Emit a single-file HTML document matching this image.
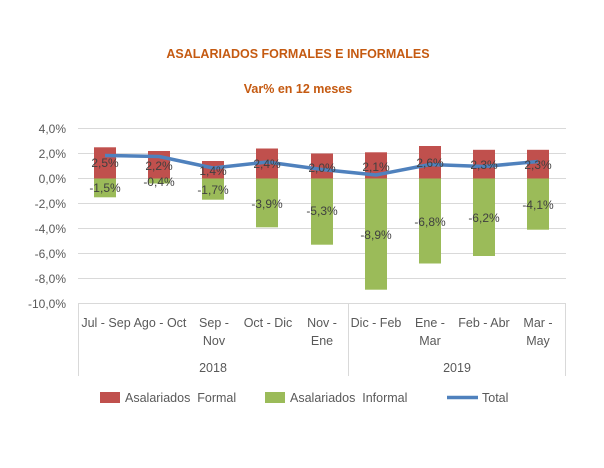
<!DOCTYPE html>
<html><head><meta charset="utf-8"><style>
body{margin:0;background:#fff}
svg{display:block;font-family:"Liberation Sans",sans-serif}
</style></head><body>
<svg width="604" height="468" viewBox="0 0 604 468">
<rect width="604" height="468" fill="#fff"/>
<text x="298" y="58" text-anchor="middle" font-size="12.5" font-weight="bold" fill="#c55a11">ASALARIADOS FORMALES E INFORMALES</text>
<text x="298" y="93" text-anchor="middle" font-size="12.5" font-weight="bold" fill="#c55a11">Var% en 12 meses</text>
<g stroke="#d9d9d9" stroke-width="1">
<line x1="78" x2="566" y1="128.5" y2="128.5"/><line x1="78" x2="566" y1="153.5" y2="153.5"/>
<line x1="78" x2="566" y1="178.5" y2="178.5"/><line x1="78" x2="566" y1="203.5" y2="203.5"/>
<line x1="78" x2="566" y1="228.5" y2="228.5"/><line x1="78" x2="566" y1="253.5" y2="253.5"/>
<line x1="78" x2="566" y1="278.5" y2="278.5"/><line x1="78" x2="566" y1="303.5" y2="303.5"/>
<line x1="78.5" x2="78.5" y1="303" y2="376"/><line x1="348.5" x2="348.5" y1="303" y2="376"/><line x1="565.5" x2="565.5" y1="303" y2="376"/>
</g>
<g font-size="12" fill="#595959" text-anchor="end">
<text x="66" y="133">4,0%</text><text x="66" y="158">2,0%</text><text x="66" y="183">0,0%</text>
<text x="66" y="208">-2,0%</text><text x="66" y="233">-4,0%</text><text x="66" y="258">-6,0%</text>
<text x="66" y="283">-8,0%</text><text x="66" y="308">-10,0%</text>
</g>
<g fill="#c0504d">
<rect x="94" y="147.3" width="22" height="31.2"/><rect x="148" y="151" width="22" height="27.5"/>
<rect x="202" y="161" width="22" height="17.5"/><rect x="256" y="148.5" width="22" height="30"/>
<rect x="311" y="153.5" width="22" height="25"/><rect x="365" y="152.3" width="22" height="26.2"/>
<rect x="419" y="146" width="22" height="32.5"/><rect x="473" y="149.8" width="22" height="28.7"/>
<rect x="527" y="149.8" width="22" height="28.7"/>
</g>
<g fill="#9bbb59">
<rect x="94" y="178.5" width="22" height="18.8"/><rect x="148" y="178.5" width="22" height="5"/>
<rect x="202" y="178.5" width="22" height="21.2"/><rect x="256" y="178.5" width="22" height="48.8"/>
<rect x="311" y="178.5" width="22" height="66.2"/><rect x="365" y="178.5" width="22" height="111.2"/>
<rect x="419" y="178.5" width="22" height="85"/><rect x="473" y="178.5" width="22" height="77.5"/>
<rect x="527" y="178.5" width="22" height="51.2"/>
</g>
<polyline fill="none" stroke="#4f81bd" stroke-width="3.5" stroke-linejoin="round" points="105,155.5 159,156.5 213,168 267,162 322,169.5 376,175 430,164.5 484,166.5 538,161.5"/>
<g font-size="12" fill="#404040" text-anchor="middle">
<text x="105" y="167">2,5%</text><text x="159" y="170">2,2%</text><text x="213" y="175">1,4%</text>
<text x="267" y="168">2,4%</text><text x="322" y="172">2,0%</text><text x="376" y="171">2,1%</text>
<text x="430" y="167">2,6%</text><text x="484" y="169">2,3%</text><text x="538" y="169">2,3%</text>
<text x="105" y="192">-1,5%</text><text x="159" y="186">-0,4%</text><text x="213" y="194">-1,7%</text>
<text x="267" y="208">-3,9%</text><text x="322" y="215">-5,3%</text><text x="376" y="239">-8,9%</text>
<text x="430" y="226">-6,8%</text><text x="484" y="222">-6,2%</text><text x="538" y="209">-4,1%</text>
</g>
<g font-size="12.5" fill="#595959" text-anchor="middle">
<text x="106" y="327">Jul - Sep</text><text x="160" y="327">Ago - Oct</text>
<text x="214" y="327">Sep -</text><text x="214" y="345">Nov</text>
<text x="268" y="327">Oct - Dic</text>
<text x="322" y="327">Nov -</text><text x="322" y="345">Ene</text>
<text x="376" y="327">Dic - Feb</text>
<text x="430" y="327">Ene -</text><text x="430" y="345">Mar</text>
<text x="484" y="327">Feb - Abr</text>
<text x="538" y="327">Mar -</text><text x="538" y="345">May</text>
<text x="213" y="372">2018</text><text x="457" y="372">2019</text>
</g>
<rect x="100" y="392" width="20" height="11" fill="#c0504d"/>
<rect x="265" y="392" width="20" height="11" fill="#9bbb59"/>
<line x1="447" x2="478" y1="397.5" y2="397.5" stroke="#4f81bd" stroke-width="3.5"/>
<g font-size="12.5" fill="#595959">
<text x="125" y="402" xml:space="preserve">Asalariados  Formal</text>
<text x="290" y="402" xml:space="preserve">Asalariados  Informal</text>
<text x="482" y="402">Total</text>
</g>
</svg>
</body></html>
